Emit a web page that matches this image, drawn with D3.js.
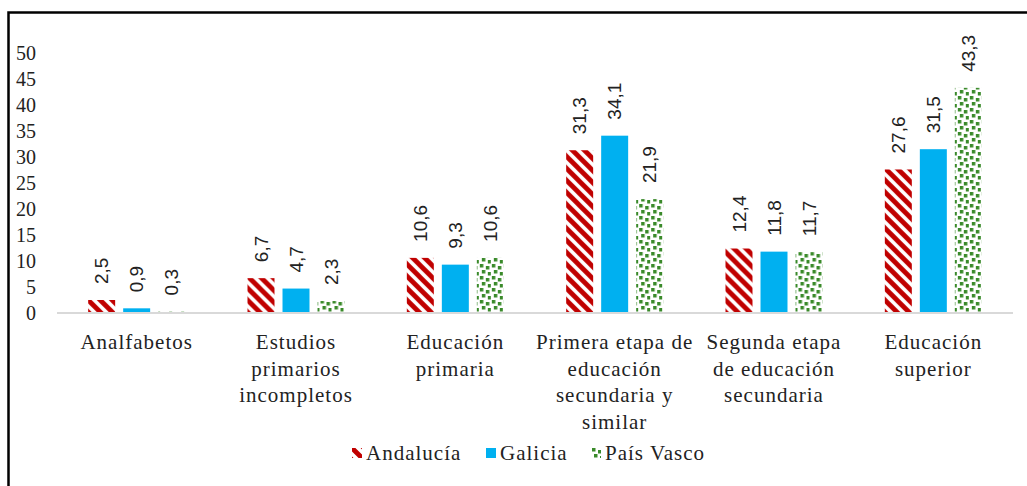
<!DOCTYPE html>
<html>
<head>
<meta charset="utf-8">
<script src="https://cdn.jsdelivr.net/npm/d3@7"></script>
<style>
  html, body { margin: 0; padding: 0; background: #fff; }
  svg { display: block; }
</style>
</head>
<body>
<svg id="chart" width="1027" height="486"></svg>
<script>
const categories = [
  ['Analfabetos'],
  ['Estudios', 'primarios', 'incompletos'],
  ['Educación', 'primaria'],
  ['Primera etapa de', 'educación', 'secundaria y', 'similar'],
  ['Segunda etapa', 'de educación', 'secundaria'],
  ['Educación', 'superior'],
];
const seriesNames = ['Andalucía', 'Galicia', 'País Vasco'];
const andalucia = [2.5, 6.7, 10.6, 31.3, 12.4, 27.6];
const galicia = [0.9, 4.7, 9.3, 34.1, 11.8, 31.5];
const paisVasco = [0.3, 2.3, 10.6, 21.9, 11.7, 43.3];
const yTicks = [0, 5, 10, 15, 20, 25, 30, 35, 40, 45, 50];

const values = [andalucia, galicia, paisVasco];
const fills = ['url(#stripes)', '#00B0F0', 'url(#confetti)'];
const serif = "'Liberation Serif', 'DejaVu Serif', serif";
const sans = "'Liberation Sans', Arial, sans-serif";

const svg = d3.select('#chart');

// patterns
const defs = svg.append('defs');
const stripes = defs.append('pattern')
  .attr('id', 'stripes')
  .attr('patternUnits', 'userSpaceOnUse')
  .attr('width', 12).attr('height', 12);
stripes.append('rect').attr('width', 12).attr('height', 12).attr('fill', '#fff');
stripes.append('path')
  .attr('d', 'M-3,-3L15,15M-3,9L3,15M9,-3L15,3')
  .attr('stroke', '#C00000')
  .attr('stroke-width', 4.8);

const confetti = defs.append('pattern')
  .attr('id', 'confetti')
  .attr('patternUnits', 'userSpaceOnUse')
  .attr('width', 12).attr('height', 12);
confetti.append('rect').attr('width', 12).attr('height', 12).attr('fill', '#fff');
[[1, 0], [7, 2], [3, 6], [9, 8]].forEach(([x, y]) => {
  confetti.append('rect')
    .attr('x', x).attr('y', y)
    .attr('width', 3.5).attr('height', 3.5)
    .attr('fill', '#3A8A2A');
});

// frame
svg.append('rect')
  .attr('x', 8.5).attr('y', 12.5)
  .attr('width', 1100).attr('height', 600)
  .attr('fill', 'none')
  .attr('stroke', '#000')
  .attr('stroke-width', 2.5);

const x0 = d3.scaleBand()
  .domain(d3.range(categories.length))
  .range([57, 1013]);

const groupW = 97;
const x1 = d3.scaleBand()
  .domain(d3.range(seriesNames.length))
  .range([0, groupW])
  .paddingInner(0.229);

const y = d3.scaleLinear()
  .domain([0, 50])
  .range([313, 53]);

// y tick labels (no axis line)
svg.append('g')
  .selectAll('text')
  .data(yTicks)
  .join('text')
  .attr('x', 36)
  .attr('y', d => y(d))
  .attr('dy', '0.35em')
  .attr('text-anchor', 'end')
  .attr('font-family', serif)
  .attr('font-size', 20)
  .attr('fill', '#222')
  .text(d => d);

// bars
const groupOffset = (x0.bandwidth() - groupW) / 2;
const group = svg.append('g')
  .selectAll('g')
  .data(categories)
  .join('g')
  .attr('transform', (d, i) => `translate(${x0(i) + groupOffset},0)`);

group.selectAll('rect')
  .data((d, i) => values.map((s, k) => ({ k, v: s[i] })))
  .join('rect')
  .attr('x', d => x1(d.k))
  .attr('y', d => y(d.v))
  .attr('width', x1.bandwidth())
  .attr('height', d => y(0) - y(d.v))
  .attr('fill', d => fills[d.k]);

group.selectAll('text')
  .data((d, i) => values.map((s, k) => ({ k, v: s[i] })))
  .join('text')
  .attr('transform', d => `translate(${x1(d.k) + x1.bandwidth() / 2},${y(d.v) - 16}) rotate(-90)`)
  .attr('dy', '0.35em')
  .attr('font-family', sans)
  .attr('font-size', 19)
  .attr('fill', '#222')
  .text(d => d3.format('.1f')(d.v).replace('.', ','));

// baseline
svg.append('line')
  .attr('x1', x0.range()[0]).attr('x2', x0.range()[1])
  .attr('y1', y(0)).attr('y2', y(0))
  .attr('stroke', '#D9D9D9')
  .attr('stroke-width', 2);

// category labels
svg.append('g')
  .selectAll('text')
  .data(categories)
  .join('text')
  .attr('x', (d, i) => x0(i) + x0.bandwidth() / 2)
  .attr('y', 349)
  .attr('text-anchor', 'middle')
  .attr('font-family', serif)
  .attr('font-size', 21)
  .attr('letter-spacing', 1)
  .attr('fill', '#222')
  .selectAll('tspan')
  .data(d => d)
  .join('tspan')
  .attr('x', function () { return this.parentNode.getAttribute('x'); })
  .attr('dy', (d, i) => i === 0 ? 0 : 26.5)
  .text(d => d);

// legend
const legendX = [352, 486, 591];
const legend = svg.append('g')
  .selectAll('g')
  .data(seriesNames)
  .join('g')
  .attr('transform', (d, i) => `translate(${legendX[i]},448)`);
legend.append('rect')
  .attr('width', 10).attr('height', 10)
  .attr('fill', (d, i) => fills[i]);
legend.append('text')
  .attr('x', 14)
  .attr('y', 12)
  .attr('font-family', serif)
  .attr('font-size', 21)
  .attr('letter-spacing', 1)
  .attr('fill', '#222')
  .text(d => d);
</script>
</body>
</html>
